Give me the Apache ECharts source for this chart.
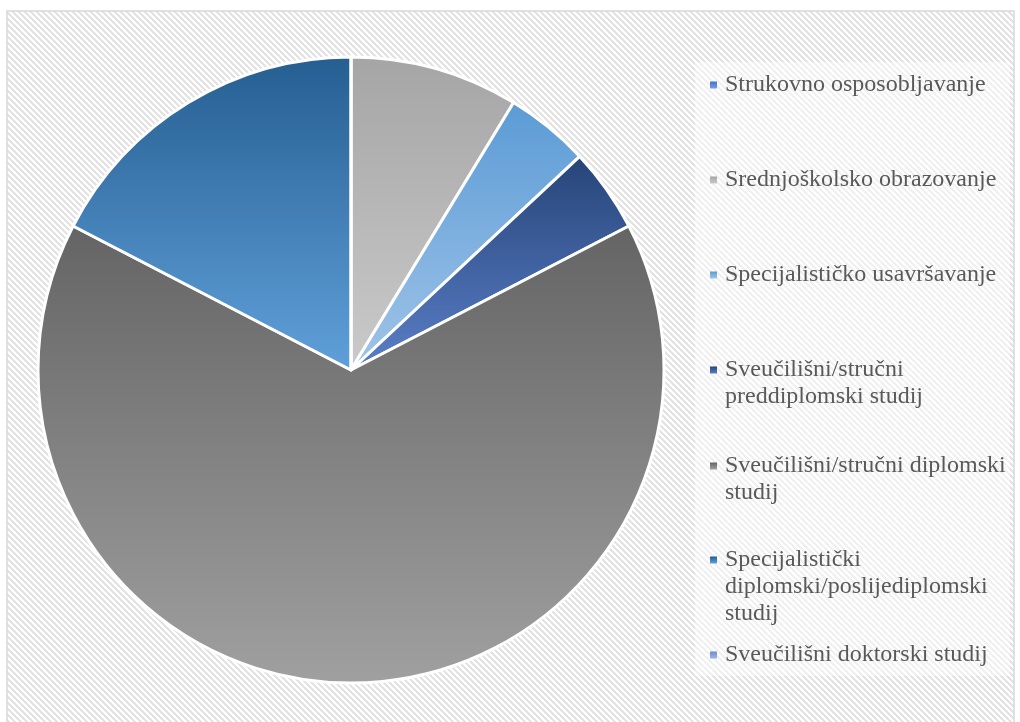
<!DOCTYPE html>
<html>
<head>
<meta charset="utf-8">
<title>Obrazovanje</title>
<script src="https://cdn.jsdelivr.net/npm/echarts@6/dist/echarts.min.js"></script>
<style>
  html, body { margin: 0; padding: 0; background: #fff; }
  #chart { width: 1020px; height: 722px; }
</style>
</head>
<body>
<div id="chart"></div>
<script>
// podaci
var categories = [
  'Strukovno osposobljavanje',
  'Srednjoškolsko obrazovanje',
  'Specijalističko usavršavanje',
  'Sveučilišni/stručni preddiplomski studij',
  'Sveučilišni/stručni diplomski studij',
  'Specijalistički diplomski/poslijediplomski studij',
  'Sveučilišni doktorski studij'
];
var legendLabels = [
  'Strukovno osposobljavanje',
  'Srednjoškolsko obrazovanje',
  'Specijalističko usavršavanje',
  'Sveučilišni/stručni\npreddiplomski studij',
  'Sveučilišni/stručni diplomski\nstudij',
  'Specijalistički\ndiplomski/poslijediplomski\nstudij',
  'Sveučilišni doktorski studij'
];
var values = [0, 20, 10, 10, 150, 40, 0];

// boje (gore -> dolje)
var topColors = ['#4472c4', '#a5a5a5', '#5b9bd5', '#264478', '#646464', '#255e91', '#698ed0'];
var bottomColors = ['#7b9de0', '#cacaca', '#a0c4e8', '#5b7fc8', '#a0a0a0', '#60a0da', '#9db5e3'];

var chart = echarts.init(document.getElementById('chart'));

// dijagonalne pruge u pozadini
var tile = document.createElement('canvas');
tile.width = 6; tile.height = 6;
var ctx = tile.getContext('2d');
ctx.fillStyle = '#ffffff';
ctx.fillRect(0, 0, 6, 6);
ctx.fillStyle = '#e3e3e3';
for (var y = 0; y < 6; y++) {
  for (var x = 0; x < 6; x++) {
    if (((x - y) % 6 + 6) % 6 < 3) ctx.fillRect(x, y, 1, 1);
  }
}

function grad(i) {
  return {
    type: 'linear', x: 0, y: 0, x2: 0, y2: 1,
    colorStops: [{offset: 0, color: topColors[i]}, {offset: 1, color: bottomColors[i]}]
  };
}

var pieData = categories.map(function (name, i) {
  return {name: name, value: values[i], itemStyle: {color: grad(i)}};
});

// ikona poravnata s prvim redom: prazni redovi ispred teksta
var legendCenters = [85, 180, 275, 370, 466, 560, 655];
var legends = categories.map(function (name, i) {
  var lines = legendLabels[i].split('\n').length;
  var text = legendLabels[i];
  for (var k = 1; k < lines; k++) text = ' \n' + text;
  return {
    data: [name],
    orient: 'vertical',
    left: 710,
    top: legendCenters[i] - (2 * lines - 1) * 13.5,
    padding: 0,
    icon: 'rect',
    itemWidth: 7,
    itemHeight: 7,
    selectedMode: false,
    itemStyle: {borderWidth: 0},
    formatter: function () { return text; },
    textStyle: {
      fontFamily: 'Liberation Serif',
      fontSize: 24,
      lineHeight: 27,
      color: '#595959',
      padding: [0, 0, 0, 3]
    }
  };
});

var option = {
  animation: false,
  graphic: [
    {
      type: 'rect', z: 0, silent: true,
      shape: {x: 7, y: 11, width: 1007, height: 720},
      style: {fill: {image: tile, repeat: 'repeat'}, stroke: '#d9d9d9', lineWidth: 1.5}
    },
    {
      type: 'rect', z: 1, silent: true,
      shape: {x: 695, y: 62, width: 315, height: 614},
      style: {fill: 'rgba(255,255,255,0.45)'}
    }
  ],
  legend: legends,
  series: [{
    type: 'pie',
    center: [351, 370],
    radius: 313,
    startAngle: 90,
    clockwise: true,
    avoidLabelOverlap: false,
    label: {show: false},
    labelLine: {show: false},
    itemStyle: {borderColor: '#ffffff', borderWidth: 3},
    emphasis: {scale: false},
    data: pieData
  }]
};

chart.setOption(option);
</script>
</body>
</html>
